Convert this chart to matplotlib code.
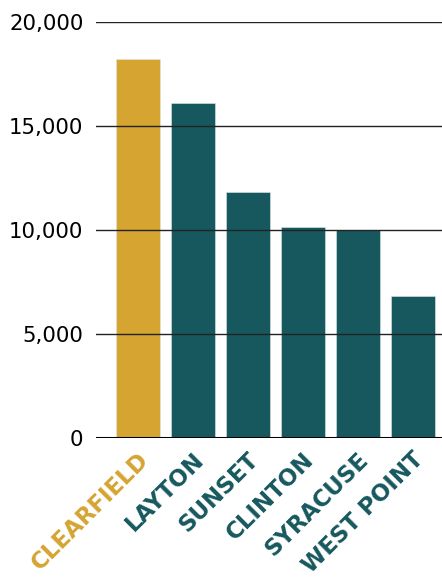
import matplotlib
matplotlib.use("Agg")
import matplotlib.pyplot as plt
from matplotlib.ticker import FuncFormatter
import matplotlib.transforms as mtransforms

cities = ["CLEARFIELD", "LAYTON", "SUNSET", "CLINTON", "SYRACUSE", "WEST POINT"]
values = [18200, 16100, 11800, 10150, 10000, 6800]
yticks = [0, 5000, 10000, 15000, 20000]

gold = "#D5A431"
teal = "#16585E"
colors = [gold] + [teal] * 5

fig = plt.figure(figsize=(4.42, 5.79), dpi=100)
ax = fig.add_axes([96/442, 1 - 438/579, (442 - 96)/442, (438 - 21.5)/579])

x = list(range(len(cities)))
ax.bar(x, values, width=0.79, color=colors, zorder=1, edgecolor="#dfe8e8", linewidth=0.4)

ax.set_ylim(0, 20000)
ax.set_xlim(-0.764, 5.527)
ax.set_yticks(yticks)
ax.yaxis.set_major_formatter(FuncFormatter(lambda v, p: f"{int(v):,}"))
for t in yticks[1:]:
    ax.axhline(t, color="#222222", linewidth=1.0, zorder=3)
ax.axhline(0, color="black", linewidth=2.2, zorder=4)

for s in ax.spines.values():
    s.set_visible(False)
ax.tick_params(axis="y", length=0, pad=9, labelsize=15.3)
ax.tick_params(axis="x", length=0)
for lab in ax.get_yticklabels():
    lab.set_family(["DejaVu Sans"])
    lab.set_color("black")
ax.set_xticks(x)
ax.set_xticklabels([])

offset = mtransforms.ScaledTranslation(-1/100, -10/100, fig.dpi_scale_trans)
for i, (c, col) in enumerate(zip(cities, colors)):
    ax.text(i, 0, c, rotation=45, rotation_mode="anchor", ha="right", va="top",
            color=col, fontsize=16.5, fontweight="bold", family=["DejaVu Sans"],
            transform=ax.transData + offset)

fig.savefig("out.png", dpi=100)
